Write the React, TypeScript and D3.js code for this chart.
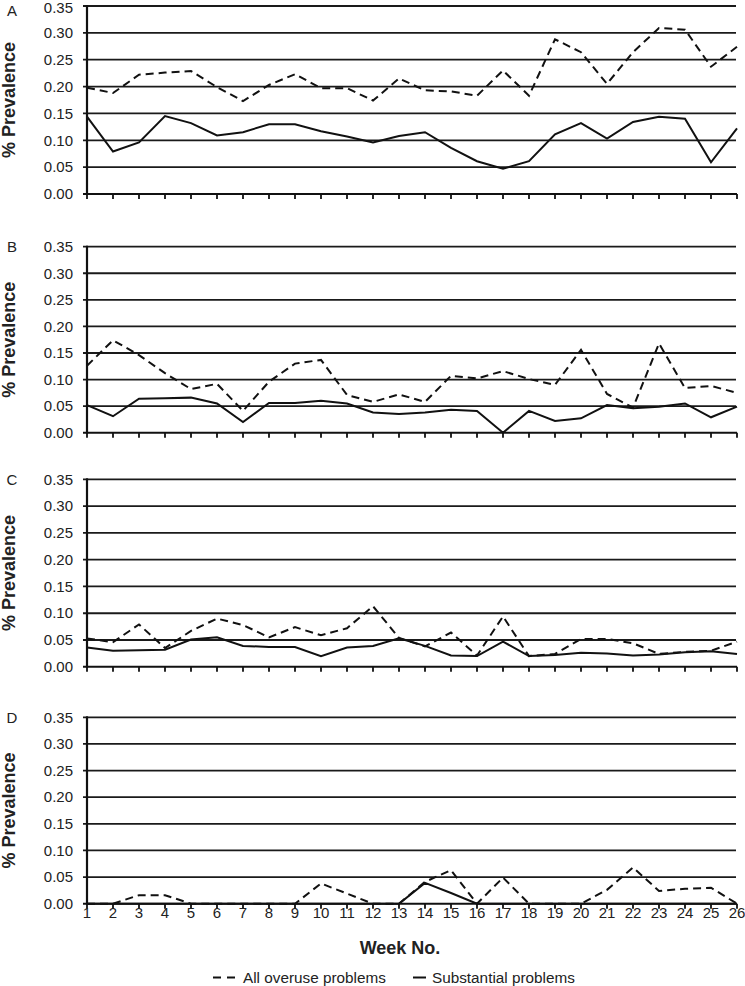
import React from "react";
import * as d3 from "d3";

const weeks: number[] = d3.range(1, 27);
const yTicks: number[] = [0, 0.05, 0.1, 0.15, 0.2, 0.25, 0.3, 0.35];
const panelLetters: string[] = ["A", "B", "C", "D"];
const seriesNames: string[] = ["All overuse problems", "Substantial problems"];

const overuseA: number[] = [0.198, 0.188, 0.222, 0.226, 0.229, 0.199, 0.173, 0.203, 0.223, 0.197, 0.197, 0.174, 0.215, 0.193, 0.191, 0.183, 0.23, 0.183, 0.288, 0.264, 0.205, 0.264, 0.309, 0.306, 0.237, 0.274];
const substA: number[] = [0.144, 0.079, 0.096, 0.145, 0.132, 0.109, 0.115, 0.13, 0.13, 0.117, 0.107, 0.096, 0.108, 0.115, 0.086, 0.061, 0.047, 0.061, 0.111, 0.132, 0.103, 0.134, 0.144, 0.14, 0.059, 0.122];

const overuseB: number[] = [0.126, 0.174, 0.146, 0.112, 0.082, 0.092, 0.041, 0.096, 0.13, 0.137, 0.071, 0.058, 0.072, 0.058, 0.107, 0.102, 0.116, 0.101, 0.09, 0.156, 0.073, 0.047, 0.168, 0.084, 0.088, 0.075];
const substB: number[] = [0.052, 0.031, 0.064, 0.065, 0.066, 0.055, 0.02, 0.056, 0.056, 0.06, 0.055, 0.038, 0.035, 0.038, 0.043, 0.041, 0.0, 0.041, 0.022, 0.027, 0.052, 0.046, 0.049, 0.055, 0.029, 0.049];

const overuseC: number[] = [0.053, 0.046, 0.079, 0.035, 0.067, 0.09, 0.078, 0.055, 0.074, 0.059, 0.072, 0.113, 0.054, 0.038, 0.064, 0.021, 0.094, 0.02, 0.024, 0.052, 0.052, 0.044, 0.024, 0.028, 0.03, 0.047];
const substC: number[] = [0.036, 0.03, 0.031, 0.032, 0.051, 0.055, 0.039, 0.037, 0.037, 0.02, 0.036, 0.039, 0.053, 0.039, 0.021, 0.02, 0.047, 0.02, 0.022, 0.026, 0.025, 0.021, 0.023, 0.027, 0.029, 0.024];

const overuseD: number[] = [0, 0, 0.016, 0.016, 0, 0, 0, 0, 0, 0.038, 0.019, 0, 0, 0.041, 0.063, 0, 0.049, 0, 0, 0, 0.026, 0.068, 0.024, 0.028, 0.03, 0];
const substD: number[] = [0, 0, 0, 0, 0, 0, 0, 0, 0, 0, 0, 0, 0, 0.039, 0.02, 0, 0, 0, 0, 0, 0, 0, 0, 0, 0, 0];

const overuseSeries: number[][] = [overuseA, overuseB, overuseC, overuseD];
const substSeries: number[][] = [substA, substB, substC, substD];

const panelTops = [6, 246.7, 479.3, 717.3];
const panelBottoms = [194, 432.7, 666.8, 903.7];

const W = 745;
const H = 986;
const FONT = "Liberation Sans, Arial, Helvetica, sans-serif";
const X0 = 87;
const X1 = 737;

export default function App() {
  const x = d3.scaleLinear().domain([1, 26]).range([X0, X1]);

  return (
    <svg
      width={W}
      height={H}
      style={{ position: "absolute", left: 0, top: 0, background: "#fff" }}
      fontFamily={FONT}
    >
      {panelLetters.map((letter, i) => {
        const y = d3.scaleLinear().domain([0, 0.35]).range([panelBottoms[i], panelTops[i]]);
        const line = d3
          .line<number>()
          .x((_, j) => x(weeks[j]))
          .y((v) => y(v));
        const midY = (panelTops[i] + panelBottoms[i]) / 2;
        return (
          <g key={letter}>
            {yTicks.map((t) => (
              <g key={t}>
                {t > 0 && (
                  <line x1={X0 - 4} x2={X1 - 1} y1={y(t)} y2={y(t)} stroke="#1a1a1a" strokeWidth={1.8} />
                )}
                <text x={73} y={Math.max(y(t), 7.5)} dy="0.35em" textAnchor="end" fontSize={15} fill="#222">
                  {t.toFixed(2)}
                </text>
              </g>
            ))}
            <line x1={X0 - 4} x2={X1} y1={y(0)} y2={y(0)} stroke="#111" strokeWidth={2} />
            {weeks.map((w) => (
              <line key={w} x1={x(w)} x2={x(w)} y1={y(0)} y2={y(0) + 5} stroke="#111" strokeWidth={1.8} />
            ))}
            <line x1={X0} x2={X0} y1={y(0.35) - 1} y2={y(0) + 1} stroke="#111" strokeWidth={2.2} />
            <path d={line(overuseSeries[i]) || ""} fill="none" stroke="#111" strokeWidth={2} strokeDasharray="8,5" />
            <path d={line(substSeries[i]) || ""} fill="none" stroke="#111" strokeWidth={2} />
            <text x={12} y={Math.max(panelTops[i], 11)} dy="0.35em" textAnchor="middle" fontSize={15} fill="#222">
              {letter}
            </text>
            <text
              transform={`translate(15, ${midY}) rotate(-90)`}
              textAnchor="middle"
              fontSize={18}
              fontWeight="bold"
              fill="#222"
            >
              % Prevalence
            </text>
            {i === 3 &&
              weeks.map((w) => (
                <text key={w} x={x(w)} y={y(0) + 14.5} textAnchor="middle" fontSize={15} fill="#222">
                  {w}
                </text>
              ))}
          </g>
        );
      })}
      <text x={(X0 + X1) / 2 - 12} y={954} textAnchor="middle" fontSize={18} fontWeight="bold" fill="#222">
        Week No.
      </text>
      <line x1={213} x2={235} y1={977.5} y2={977.5} stroke="#111" strokeWidth={2} strokeDasharray="8,6" />
      <text x={243} y={983} fontSize={15.3} fill="#222">
        {seriesNames[0]}
      </text>
      <line x1={413} x2={426} y1={977.5} y2={977.5} stroke="#111" strokeWidth={2} />
      <text x={432} y={983} fontSize={15.3} fill="#222">
        {seriesNames[1]}
      </text>
    </svg>
  );
}
